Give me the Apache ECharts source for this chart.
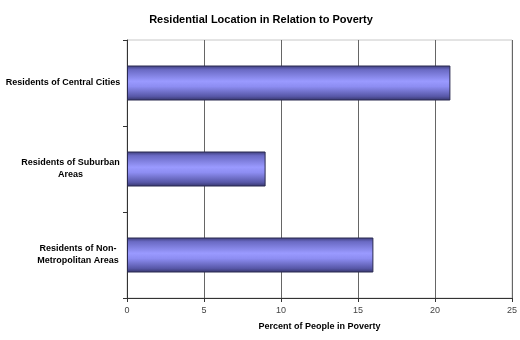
<!DOCTYPE html>
<html><head><meta charset="utf-8">
<script src="https://cdn.jsdelivr.net/npm/echarts@6/dist/echarts.min.js"></script>
<style>html,body{margin:0;padding:0;background:#fff}#c{width:520px;height:340px}</style>
</head><body><div id="c"></div>
<script>
const categories = ['Residents of Non-\nMetropolitan Areas', 'Residents of Suburban\nAreas', 'Residents of Central Cities'];
const values = [16, 9, 21];
const xTicks = [0, 5, 10, 15, 20, 25];
const titleText = 'Residential Location in Relation to Poverty';
const xAxisName = 'Percent of People in Poverty';

const chart = echarts.init(document.getElementById('c'), null, {renderer: 'canvas'});
const font = 'Liberation Sans, Arial, sans-serif';
const labelStyle = {fontFamily: font, fontSize: 9, fontWeight: 'bold', color: '#000', lineHeight: 12, align: 'center'};
const richWidths = [84, 99, 114];
const rich = {};
richWidths.forEach((w, i) => { rich['c' + i] = Object.assign({width: w}, labelStyle); });
chart.setOption({
  animation: false,
  backgroundColor: '#ffffff',
  title: {
    text: titleText, left: 256, top: 9, textAlign: 'center',
    textStyle: {fontFamily: font, fontSize: 11, fontWeight: 'bold', color: '#000'}
  },
  grid: {left: 127, right: 8, top: 40, bottom: 42, show: true, borderColor: '#c8c8c8', borderWidth: 1},
  xAxis: {
    type: 'value', min: xTicks[0], max: xTicks[xTicks.length - 1], interval: 5,
    name: xAxisName, nameLocation: 'middle', nameGap: 24,
    nameTextStyle: {fontFamily: font, fontSize: 9, fontWeight: 'bold', color: '#000'},
    axisLine: {show: true, lineStyle: {color: '#333', width: 1}},
    axisTick: {show: true, length: 4, lineStyle: {color: '#333'}},
    axisLabel: {fontFamily: font, fontSize: 9, color: '#444', margin: 8},
    splitLine: {show: true, lineStyle: {color: '#666', width: 1}}
  },
  yAxis: {
    type: 'category', data: categories,
    axisLine: {show: true, lineStyle: {color: '#333', width: 1}},
    axisTick: {show: true, length: 4, inside: false, lineStyle: {color: '#333'}},
    axisLabel: {
      fontFamily: font, fontSize: 9, fontWeight: 'bold', color: '#000', margin: 7, align: 'right', lineHeight: 12,
      formatter: (v, i) => v.split('\n').map(s => '{c' + i + '|' + s + '}').join('\n'),
      rich: rich
    },
    splitLine: {show: false}
  },
  series: [{
    type: 'bar', data: values, barWidth: 35,
    itemStyle: {
      borderColor: '#2a2a50', borderWidth: 1,
      color: new echarts.graphic.LinearGradient(0, 0, 0, 1, [
        {offset: 0, color: '#3c3c78'},
        {offset: 0.12, color: '#6a6ac4'},
        {offset: 0.45, color: '#9a9aff'},
        {offset: 0.6, color: '#8d8df2'},
        {offset: 0.88, color: '#5858a8'},
        {offset: 1, color: '#34346a'}
      ])
    }
  }]
});
</script></body></html>
